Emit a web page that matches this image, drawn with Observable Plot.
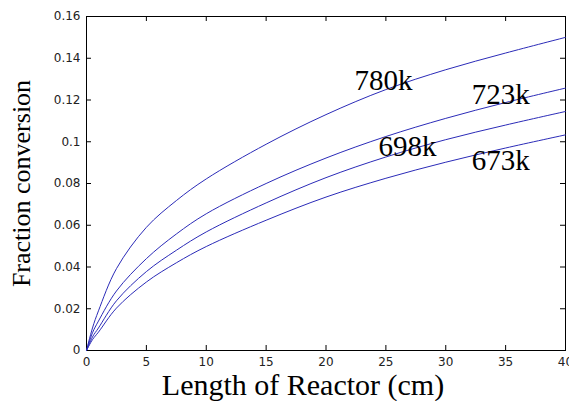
<!DOCTYPE html>
<html>
<head>
<meta charset="utf-8">
<script src="https://cdn.jsdelivr.net/npm/d3@7"></script>
<script src="https://cdn.jsdelivr.net/npm/@observablehq/plot@0.6"></script>
<style>
  html, body { margin: 0; padding: 0; background: #fff; }
  #chart svg { display: block; }
</style>
</head>
<body>
<div id="chart"></div>
<script>
// Reactor length (cm) at which the curves were read
const lengths = [0, 0.5, 1, 2.5, 5, 7.5, 10, 15, 20, 25, 30, 35, 40];
// Fraction conversion for each temperature
const conv780 = [0, 0.0108, 0.019, 0.0392, 0.059, 0.0718, 0.0822, 0.0988, 0.1130, 0.1250, 0.1345, 0.1425, 0.150];
const conv723 = [0, 0.0085, 0.0141, 0.0285, 0.0440, 0.0558, 0.0655, 0.0800, 0.0922, 0.1025, 0.1112, 0.1188, 0.1257];
const conv698 = [0, 0.0065, 0.0108, 0.0238, 0.0378, 0.0480, 0.0568, 0.0707, 0.0828, 0.0927, 0.1010, 0.1080, 0.1145];
const conv673 = [0, 0.0052, 0.0088, 0.0203, 0.0328, 0.0420, 0.0498, 0.0624, 0.0735, 0.0825, 0.0902, 0.0970, 0.1033];
const seriesNames = ["780k", "723k", "698k", "673k"];
// In-plot label anchors (data units)
const labelX = [24.8, 34.6, 26.8, 34.6];
const labelY = [0.1293, 0.1224, 0.0975, 0.0908];
// Ticks
const xTicks = [0, 5, 10, 15, 20, 25, 30, 35, 40];
const xTickLabels = ["0", "5", "10", "15", "20", "25", "30", "35", "40"];
const yTicks = [0, 0.02, 0.04, 0.06, 0.08, 0.1, 0.12, 0.14, 0.16];
const yTickLabels = ["0", "0.02", "0.04", "0.06", "0.08", "0.1", "0.12", "0.14", "0.16"];
const xTitle = "Length of Reactor (cm)";
const yTitle = "Fraction conversion";

const allSeries = [conv780, conv723, conv698, conv673];
const rows = [];
allSeries.forEach((vals, i) => {
  vals.forEach((v, j) => rows.push({series: seriesNames[i], x: lengths[j], y: v}));
});
const labels = seriesNames.map((n, i) => ({text: n, x: labelX[i], y: labelY[i]}));

const W = 569, H = 401;
const mt = 16, mb = 51, ml = 86, mr = 4;
const innerH = H - mt - mb, innerW = W - ml - mr;
const lineColor = "#2b2bb8";

const chart = Plot.plot({
  width: W,
  height: H,
  marginTop: mt,
  marginBottom: mb,
  marginLeft: ml,
  marginRight: mr,
  style: {background: "#fff", color: "#000", fontFamily: "DejaVu Sans"},
  x: {domain: [0, 40]},
  y: {domain: [0, 0.16]},
  marks: [
    Plot.frame({stroke: "#000", strokeWidth: 1}),
    // inward ticks on all four sides
    Plot.tickX(xTicks, {x: d => d, insetTop: innerH - 5, stroke: "#000"}),
    Plot.tickX(xTicks, {x: d => d, insetBottom: innerH - 5, stroke: "#000"}),
    Plot.tickY(yTicks, {y: d => d, insetRight: innerW - 5, stroke: "#000"}),
    Plot.tickY(yTicks, {y: d => d, insetLeft: innerW - 5, stroke: "#000"}),
    Plot.axisX({ticks: xTicks, tickSize: 0, tickPadding: 7, fontSize: 12,
      tickFormat: d => xTickLabels[xTicks.indexOf(d)], label: null, fill: "#222"}),
    Plot.axisY({ticks: yTicks, tickSize: 0, tickPadding: 6, fontSize: 12,
      tickFormat: d => yTickLabels[yTicks.findIndex(t => Math.abs(t - d) < 1e-9)], label: null, fill: "#222"}),
    Plot.line(rows, {x: "x", y: "y", z: "series", stroke: lineColor, strokeWidth: 1, curve: "catmull-rom"}),
    Plot.text(labels, {x: "x", y: "y", text: "text", fontSize: 29, fontFamily: "Liberation Serif",
      fill: "#000", lineAnchor: "middle", textAnchor: "middle"}),
    Plot.text([xTitle], {frameAnchor: "bottom", dx: -23, dy: 35, fontSize: 30,
      fontFamily: "Liberation Serif", fill: "#000", lineAnchor: "middle", textAnchor: "middle"}),
    Plot.text([yTitle], {frameAnchor: "left", dx: -65, rotate: -90, fontSize: 26,
      fontFamily: "Liberation Serif", fill: "#000", lineAnchor: "middle", textAnchor: "middle"})
  ]
});
document.getElementById("chart").appendChild(chart);
</script>
</body>
</html>
